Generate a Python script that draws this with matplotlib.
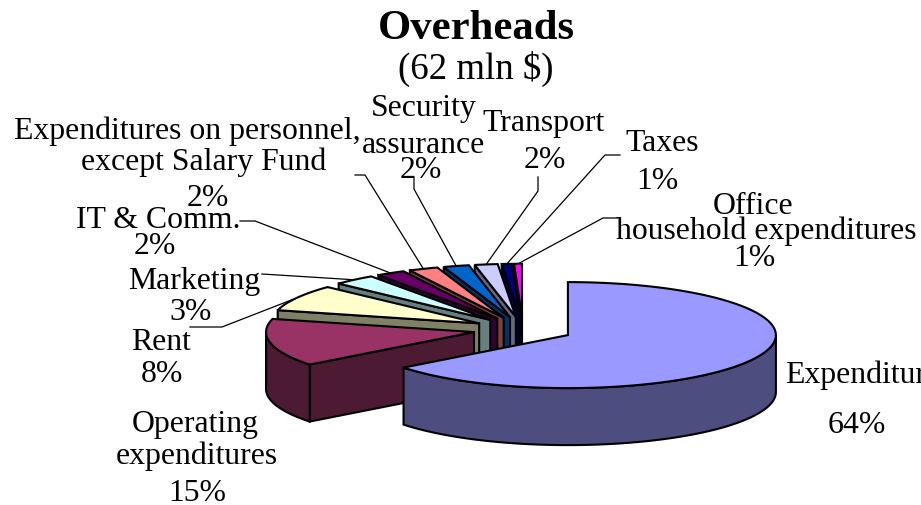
#!/usr/bin/env python3

import numpy as np
import matplotlib
matplotlib.use("Agg")
import matplotlib.pyplot as plt
from matplotlib.patches import Polygon

# -----------------------------
# Data
# -----------------------------
categories = ["Expenditures", "Operating expenditures", "Rent", "Marketing", "IT & Comm.",
              "Expenditures on personnel", "Security assurance", "Transport", "Taxes",
              "Office household expenditures"]
values = [64.5, 14.5, 8, 3.3, 2.25, 2.28, 2.0, 1.78, 0.78, 0.61]
top_colors = ["#9999FF", "#993366", "#FFFFCC", "#CCFFFF", "#660066",
              "#FF8080", "#0066CC", "#CCCCFF", "#000080", "#FF00FF"]
side_colors = ["#4D4D80", "#4D1A33", "#808066", "#668080", "#330033",
               "#804040", "#003366", "#666680", "#000040", "#800080"]

# pie geometry, in pixels of the picture
cx, cy = 523, 330.5
rx, ry = 208, 53
depth = 57
explode = 50
tilt = ry / rx
edge_lw = 1.5

plt.rcParams["font.family"] = ["Liberation Serif", "DejaVu Serif"]

fig = plt.figure(figsize=(9.21, 5.06), dpi=100)
ax = fig.add_axes([0, 0, 1, 1])
ax.set_xlim(0, 921)
ax.set_ylim(506, 0)
ax.axis("off")


def rim(x0, y0, a):
    # a is in degrees, clockwise from 12 o'clock
    a = np.radians(a)
    return x0 + rx * np.sin(a), y0 - ry * np.cos(a)


# -----------------------------
# Slices, from the back to the front
# -----------------------------
edges = 360 * np.cumsum([0] + values) / sum(values)
centers = {}

order = list(range(len(values) - 1, 0, -1)) + [0]
for z, i in enumerate(order):
    a0, a1 = edges[i], edges[i + 1]
    mid = np.radians((a0 + a1) / 2)
    x0 = cx + explode * np.sin(mid)
    y0 = cy - explode * tilt * np.cos(mid)
    centers[i] = (x0, y0)

    # cut face on the start edge, it only faces us on the left half
    if a0 > 180:
        xs, ys = rim(x0, y0, a0)
        ax.add_patch(Polygon([(x0, y0), (xs, ys), (xs, ys + depth), (x0, y0 + depth)],
                             fc=side_colors[i], ec="black", lw=edge_lw, zorder=2 + z))

    # outer wall, the part that is on the front of the ellipse
    w0, w1 = max(a0, 90), min(a1, 270)
    if w1 > w0:
        t = np.linspace(w0, w1, 80)
        xw, yw = rim(x0, y0, t)
        pts = list(zip(xw, yw)) + list(zip(xw[::-1], yw[::-1] + depth))
        ax.add_patch(Polygon(pts, fc=side_colors[i], ec="black", lw=edge_lw, zorder=2 + z))

    # top
    t = np.linspace(a0, a1, 120)
    xt, yt = rim(x0, y0, t)
    pts = [(x0, y0)] + list(zip(xt, yt))
    ax.add_patch(Polygon(pts, fc=top_colors[i], ec="black", lw=edge_lw, zorder=2 + z))


# -----------------------------
# Leader lines: slice index, then elbows
# -----------------------------
leaders = [
    (9, [(603, 219), (618, 219)]),
    (8, [(605, 156), (620, 156)]),
    (7, [(538, 192), (538, 178)]),
    (6, [(414, 190), (414, 178)]),
    (5, [(365, 176), (355, 176)]),
    (4, [(255, 222), (240, 222)]),
    (3, [(262, 275)]),
    (2, [(222, 328), (190, 328)]),
]
for i, elbows in leaders:
    mid = (edges[i] + edges[i + 1]) / 2
    sx, sy = rim(centers[i][0], centers[i][1], mid)
    xs = [sx] + [p[0] for p in elbows]
    ys = [sy] + [p[1] for p in elbows]
    ax.plot(xs, ys, color="black", lw=0.9, zorder=1)


# -----------------------------
# Text
# -----------------------------
label_size = 22.9
ax.text(476, 29, "Overheads", ha="center", va="center", fontsize=30.8, fontweight="bold")
ax.text(476, 69, "(62 mln $)", ha="center", va="center", fontsize=26.5)

label_lines = [
    ("Security", 424, 108), ("assurance", 423, 145), ("2%", 421, 170),
    ("Transport", 544, 123), ("2%", 545, 160),
    ("Taxes", 662, 143), ("1%", 657, 181),
    ("Office", 753, 206), ("household expenditures", 766, 231), ("1%", 754, 258),
    ("Expenditures on personnel,", 187, 131), ("except Salary Fund", 204, 162), ("2%", 208, 199),
    ("IT & Comm.", 158, 220), ("2%", 155, 246),
    ("Marketing", 194, 282), ("3%", 191, 312),
    ("Rent", 161, 342), ("8%", 162, 374),
    ("Operating", 195, 425), ("expenditures", 197, 456), ("15%", 197, 494),
    ("64%", 857, 426),
]
for txt, x, y in label_lines:
    ax.text(x, y, txt, ha="center", va="center", fontsize=label_size, zorder=20)
ax.text(785, 375, "Expenditures", ha="left", va="center", fontsize=label_size, zorder=20)

fig.savefig("out.png", dpi=100)
plt.close(fig)
